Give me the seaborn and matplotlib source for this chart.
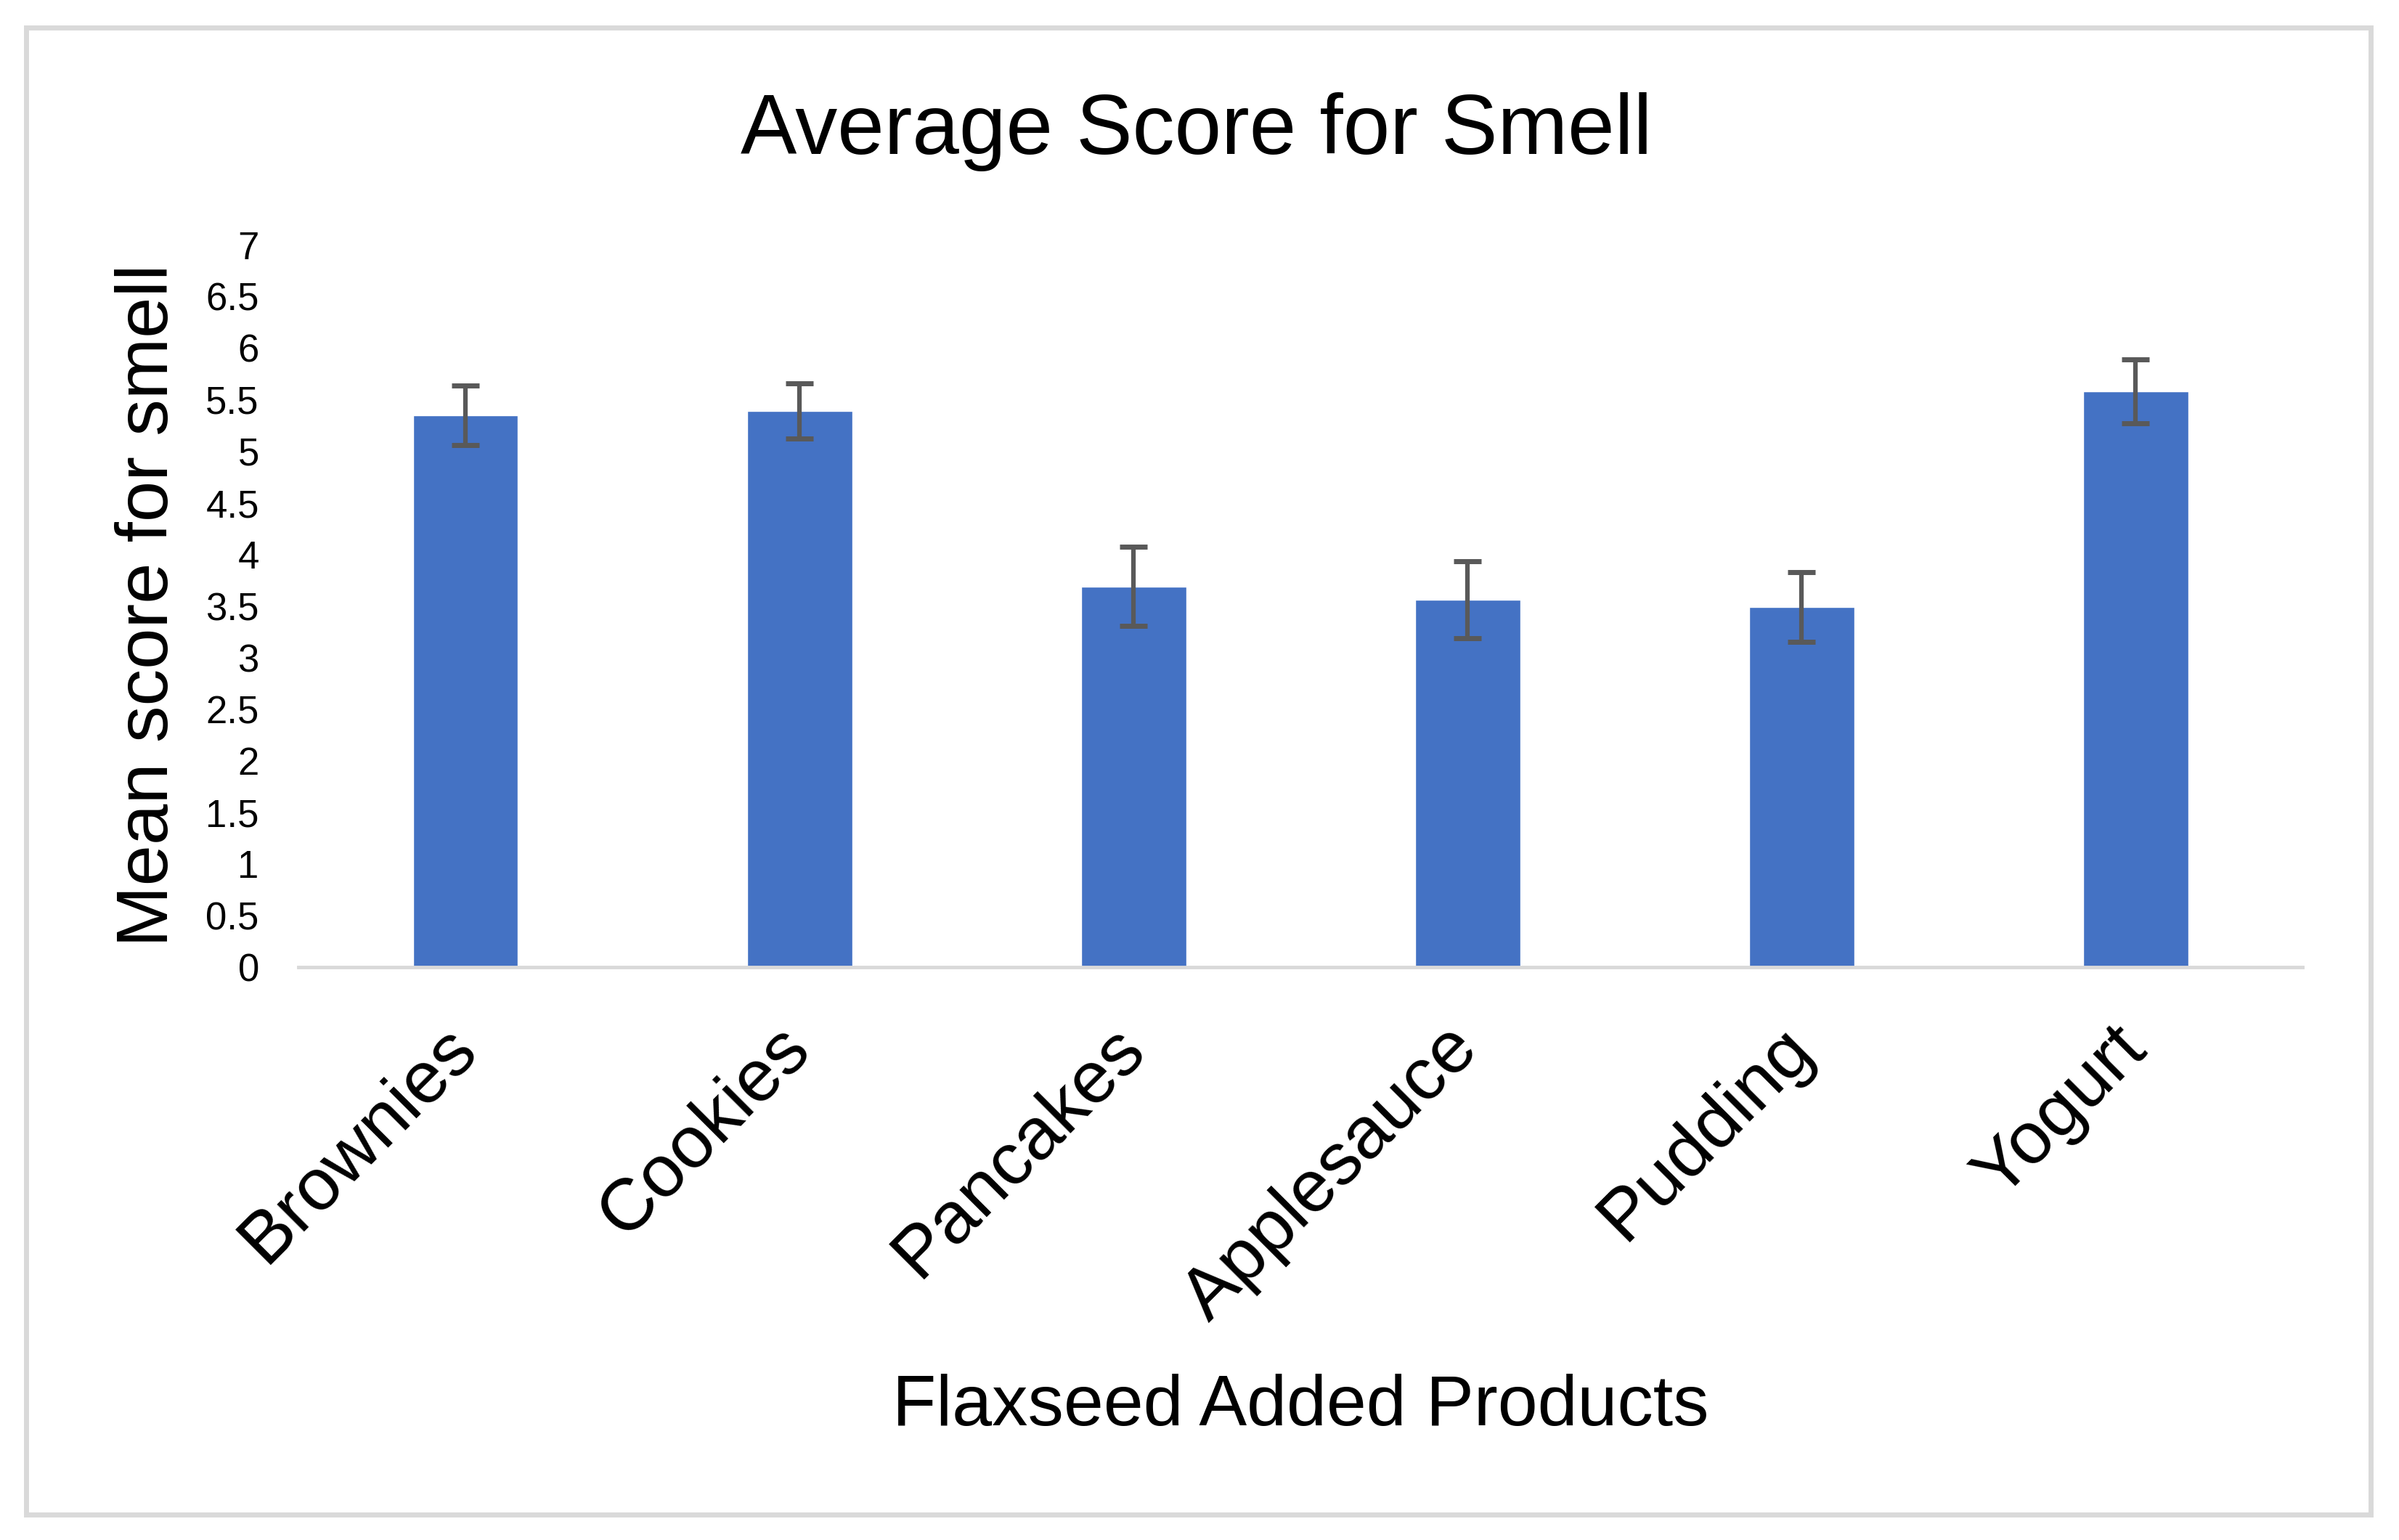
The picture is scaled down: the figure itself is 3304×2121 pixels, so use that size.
import matplotlib
matplotlib.use("Agg")
import matplotlib.pyplot as plt
import seaborn as sns
import pandas as pd
from matplotlib.patches import Rectangle

# Data
products = ["Brownies", "Cookies", "Pancakes", "Applesauce", "Pudding", "Yogurt"]
mean_scores = [5.35, 5.39, 3.69, 3.56, 3.49, 5.58]
score_errors = [0.29, 0.27, 0.385, 0.375, 0.34, 0.31]
y_ticks = [0, 0.5, 1, 1.5, 2, 2.5, 3, 3.5, 4, 4.5, 5, 5.5, 6, 6.5, 7]

df = pd.DataFrame({"Product": products, "Score": mean_scores, "Err": score_errors})

sns.set_style("white")
plt.rcParams["font.family"] = ["Liberation Sans", "DejaVu Sans"]
plt.rcParams["text.color"] = "black"
plt.rcParams["xtick.color"] = "black"
plt.rcParams["ytick.color"] = "black"

fig = plt.figure(figsize=(33.04, 21.21), dpi=100)
ax = fig.add_axes([0.1244, 0.372, 0.8354, 0.469])

sns.barplot(data=df, x="Product", y="Score", color="#4472C4", saturation=1,
            width=0.315, errorbar=None, ax=ax)
ax.errorbar(range(len(products)), df["Score"], yerr=df["Err"], fmt="none",
            ecolor="#595959", elinewidth=4.5, capsize=13.7, capthick=5, zorder=5)

ax.set_ylim(0, 7)
ax.set_xlim(-0.5, len(products) - 0.5)
ax.set_yticks(y_ticks)
ax.set_yticklabels([f"{t:g}" for t in y_ticks], fontsize=38, color="black")
ax.tick_params(axis="y", length=0, pad=39)
ax.tick_params(axis="x", length=0, pad=70)
for lab in ax.get_xticklabels():
    lab.set_rotation(45)
    lab.set_ha("right")
    lab.set_va("center")
    lab.set_rotation_mode("anchor")
    lab.set_fontsize(73)
    lab.set_color("black")

for side in ["left", "right", "top"]:
    ax.spines[side].set_visible(False)
ax.spines["bottom"].set_color("#D9D9D9")
ax.spines["bottom"].set_linewidth(3.5)

ax.set_xlabel("")
ax.set_ylabel("")
fig.text(0.0620, 0.6067, "Mean score for smell", rotation=90, fontsize=73,
         ha="center", va="center", color="black")
fig.text(0.542, 1 - 1937 / 2121, "Flaxseed Added Products", fontsize=71,
         ha="center", va="center", color="black")
fig.text(0.4988, 1 - 181 / 2121, "Average Score for Smell", fontsize=83.5,
         ha="center", va="center", color="black")

# light grey chart-area border
fig.patches.append(Rectangle((36 / 3304, 35 / 2121), (3265 - 36) / 3304, (2086 - 38) / 2121,
                             transform=fig.transFigure, fill=False,
                             edgecolor="#D9D9D9", linewidth=5))

fig.savefig("out.png", dpi=100)
